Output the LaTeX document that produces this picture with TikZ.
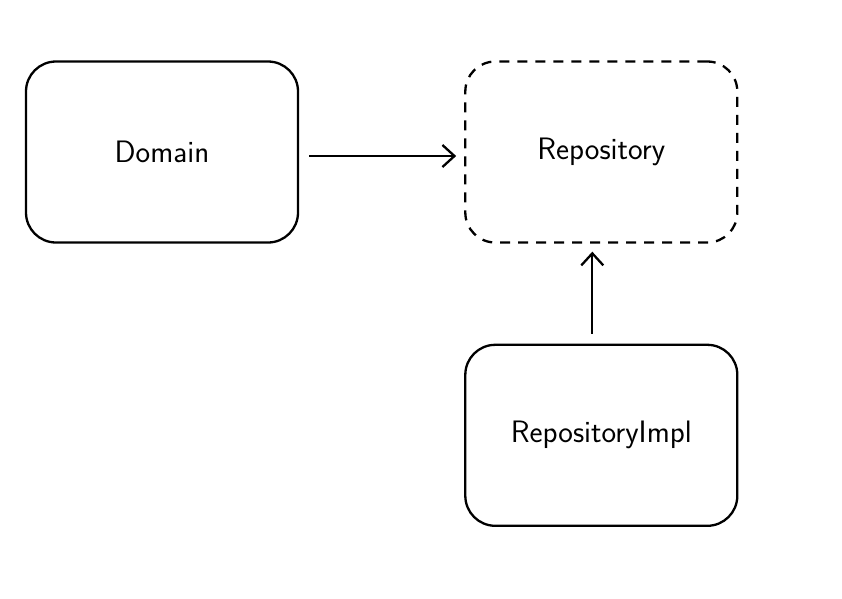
\documentclass[tikz,border=0pt]{standalone}
\usepackage{tikz}
\usetikzlibrary{arrows.meta,positioning}

\begin{document}
\begin{tikzpicture}[
    x=1pt, y=-1pt,
    node distance=100pt and 165pt,
    layerbox/.style={draw, line width=2.3pt, rounded corners=30pt, minimum width=272pt,
        minimum height=181pt, align=center, font=\sffamily\fontsize{31}{36}\selectfont},
    depedge/.style={-{Straight Barb[length=12pt,width=22pt,line width=2.3pt]}, line width=2.3pt,
        shorten <=10pt, shorten >=8pt}
]
\useasboundingbox (0,0) rectangle (842,598);
\node[layerbox] (domain) at (162,152) {Domain};
\node[layerbox, dashed, dash pattern=on 10pt off 8pt] (repo) [right=of domain] {Repository};
\node[layerbox] (impl) [below=of repo] {RepositoryImpl};

\draw[depedge] ([yshift=-4pt]domain.east) -- ([yshift=-4pt]repo.west);
\draw[depedge] ([xshift=-9pt]impl.north) -- ([xshift=-9pt]repo.south);
\end{tikzpicture}
\end{document}
